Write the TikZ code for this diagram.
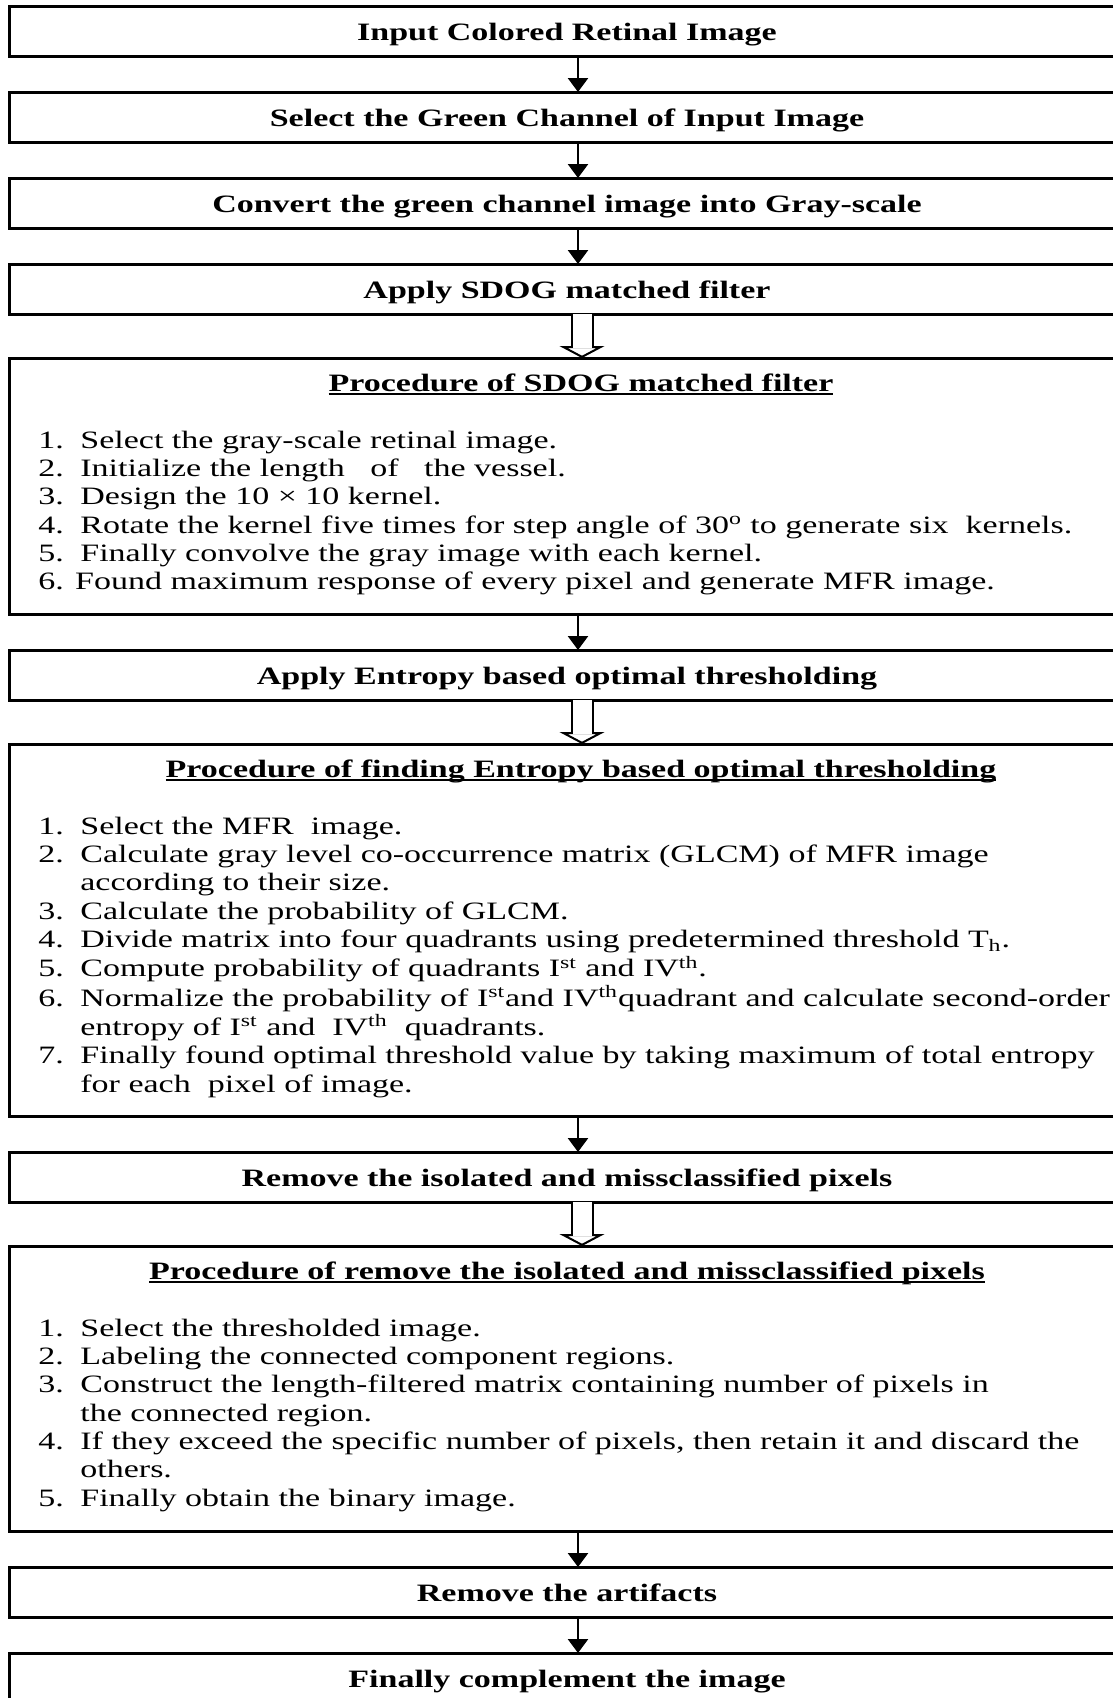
\documentclass[tikz,border=0pt]{standalone}
\usepackage{fontspec}
\setmainfont{Liberation Serif}[FakeStretch=1.36]
\usetikzlibrary{positioning,arrows.meta}
\newcommand{\procline}[1]{\setbox0=\hbox{#1}\rlap{\rule[-2.2pt]{\wd0}{1pt}}\box0}

\begin{document}
\begin{tikzpicture}[
        execute at begin picture={\fontsize{12.5}{14.17}\selectfont},
        node distance=18pt,
        box/.style={rectangle, draw, line width=1.5pt, minimum width=558pt, minimum height=25pt, outer sep=0pt, font=\bfseries, text height=11pt, text depth=2pt},
        procbox/.style={rectangle, draw, line width=1.5pt, minimum width=558pt, outer sep=0pt},
        heading/.style={anchor=base, inner sep=0pt, font=\bfseries},
        itemlist/.style={anchor=base west, inner sep=0pt},
        arrow/.style={-{Triangle[width=10pt,length=7pt]}, line width=1.3pt},
        hollow/.style={line width=1pt, double distance=9.5pt, shorten >=5pt},
        hollowtip/.style={-{Triangle[open,width=22.5pt,length=6pt]}, line width=1pt}
    ]
        \useasboundingbox (0,0) rectangle (556.5pt,-849pt);
        \clip (0,0) rectangle (556.5pt,-849pt);

        \node[box, anchor=north] (input) at (283.5pt,-3pt) {Input Colored Retinal Image};
        \node[box, below=of input] (green) {Select the Green Channel of Input Image};
        \node[box, below=of green] (gray) {Convert the green channel image into Gray-scale};
        \node[box, below=of gray] (sdog) {Apply SDOG matched filter};

        \node[procbox, minimum height=128pt, below=22pt of sdog] (sdogproc) {};
        \node[heading, xshift=7pt] (sdoghead) at ([yshift=-16.5pt]sdogproc.north) {\procline{Procedure of SDOG matched filter}};
        \node[itemlist] (sdogsteps) at ([xshift=14.5pt,yshift=-45pt]sdogproc.north west) {%
            \begin{tabular}[t]{@{}p{21pt}@{}l@{}}
            1. & Select the gray-scale retinal image.\\
            2. & Initialize the length \ \ of \ \ the vessel.\\
            3. & Design the 10 × 10 kernel.\\
            4. & Rotate the kernel five times for step angle of 30\textsuperscript{o} to generate six \ kernels.\\
            5. & Finally convolve the gray image with each kernel.\\
            \multicolumn{2}{@{}l@{}}{6. Found maximum response of every pixel and generate MFR image.}
            \end{tabular}};

        \node[box, below=of sdogproc] (entropy) {Apply Entropy based optimal thresholding};

        \node[procbox, minimum height=186pt, below=22pt of entropy] (entropyproc) {};
        \node[heading, xshift=7pt] (entropyhead) at ([yshift=-16.5pt]entropyproc.north) {\procline{Procedure of finding Entropy based optimal thresholding}};
        \node[itemlist] (entropysteps) at ([xshift=14.5pt,yshift=-45pt]entropyproc.north west) {%
            \begin{tabular}[t]{@{}p{21pt}@{}l@{}}
            1. & Select the MFR \ image.\\
            2. & Calculate gray level co-occurrence matrix (GLCM) of MFR image\\
               & according to their size.\\
            3. & Calculate the probability of GLCM.\\
            4. & Divide matrix into four quadrants using predetermined threshold T\textsubscript{h}.\\
            5. & Compute probability of quadrants I\textsuperscript{st} and IV\textsuperscript{th}.\\
            6. & Normalize the probability of I\textsuperscript{st}and IV\textsuperscript{th}quadrant and calculate second-order\\
               & entropy of I\textsuperscript{st} and \ IV\textsuperscript{th} \ quadrants.\\
            7. & Finally found optimal threshold value by taking maximum of total entropy\\
               & for each \ pixel of image.
            \end{tabular}};

        \node[box, below=of entropyproc] (removepix) {Remove the isolated and missclassified pixels};

        \node[procbox, minimum height=142.5pt, below=22pt of removepix] (removeproc) {};
        \node[heading] (removehead) at ([yshift=-16.5pt]removeproc.north) {\procline{Procedure of remove the isolated and missclassified pixels}};
        \node[itemlist] (removesteps) at ([xshift=14.5pt,yshift=-45pt]removeproc.north west) {%
            \begin{tabular}[t]{@{}p{21pt}@{}l@{}}
            1. & Select the thresholded image.\\
            2. & Labeling the connected component regions.\\
            3. & Construct the length-filtered matrix containing number of pixels in\\
               & the connected region.\\
            4. & If they exceed the specific number of pixels, then retain it and discard the\\
               & others.\\
            5. & Finally obtain the binary image.
            \end{tabular}};

        \node[box, below=of removeproc] (artifacts) {Remove the artifacts};
        \node[box, below=of artifacts] (complement) {Finally complement the image};

        \draw[arrow] ([xshift=5.5pt]input.south) -- ([xshift=5.5pt]green.north);
        \draw[arrow] ([xshift=5.5pt]green.south) -- ([xshift=5.5pt]gray.north);
        \draw[arrow] ([xshift=5.5pt]gray.south) -- ([xshift=5.5pt]sdog.north);
        \draw[arrow] ([xshift=5.5pt]sdogproc.south) -- ([xshift=5.5pt]entropy.north);
        \draw[arrow] ([xshift=5.5pt]entropyproc.south) -- ([xshift=5.5pt]removepix.north);
        \draw[arrow] ([xshift=5.5pt]removeproc.south) -- ([xshift=5.5pt]artifacts.north);
        \draw[arrow] ([xshift=5.5pt]artifacts.south) -- ([xshift=5.5pt]complement.north);

        \draw[hollowtip] ([xshift=7.5pt,yshift=8pt]sdogproc.north) -- ([xshift=7.5pt]sdogproc.north);
        \draw[hollow] ([xshift=7.5pt]sdog.south) -- ([xshift=7.5pt]sdogproc.north);
        \draw[hollowtip] ([xshift=7.5pt,yshift=8pt]entropyproc.north) -- ([xshift=7.5pt]entropyproc.north);
        \draw[hollow] ([xshift=7.5pt]entropy.south) -- ([xshift=7.5pt]entropyproc.north);
        \draw[hollowtip] ([xshift=7.5pt,yshift=8pt]removeproc.north) -- ([xshift=7.5pt]removeproc.north);
        \draw[hollow] ([xshift=7.5pt]removepix.south) -- ([xshift=7.5pt]removeproc.north);
    \end{tikzpicture}
\end{document}
